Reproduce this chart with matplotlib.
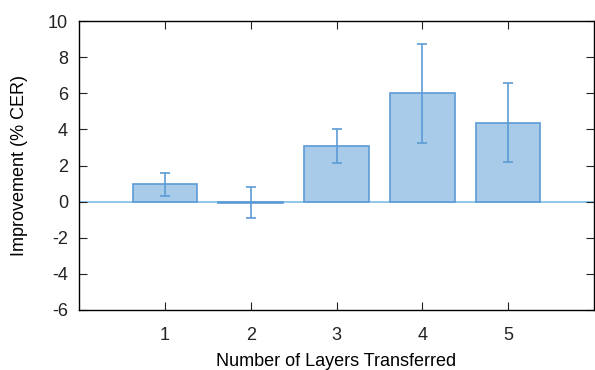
import numpy as np
import matplotlib
matplotlib.use("Agg")
import matplotlib.pyplot as plt

plt.rcParams['font.family'] = ['Liberation Sans', 'DejaVu Sans']
plt.rcParams['axes.unicode_minus'] = False

# data
layers = [1, 2, 3, 4, 5]
improvement = [0.96, -0.05, 3.08, 6.0, 4.37]
err = [0.63, 0.87, 0.94, 2.74, 2.19]
y_ticks = [-6, -4, -2, 0, 2, 4, 6, 8, 10]

fill_color = '#a7cbe8'
edge_color = '#5b9bd5'

fig = plt.figure(figsize=(5.95, 3.7), dpi=100)
ax = fig.add_axes([79 / 595, 60 / 370, 515 / 595, 289 / 370])

ax.axhline(0, color='#7fbde8', lw=1.2, zorder=1)
ax.bar(layers, improvement, width=0.75, color=fill_color, edgecolor=edge_color,
       linewidth=1.2, zorder=2)
ax.errorbar(layers, improvement, yerr=err, fmt='none', ecolor=edge_color,
            elinewidth=1.2, capsize=3.5, capthick=1.2, zorder=3)

ax.set_xlim(0, 6)
ax.set_ylim(-6, 10)
ax.set_xticks(layers)
ax.set_yticks(y_ticks)
ax.tick_params(direction='in', length=6, width=0.8, top=True, right=True,
               labelsize=13, colors='#222222', pad=8)
ax.tick_params(axis='x', pad=12)
for s in ax.spines.values():
    s.set_linewidth(1.0)

ax.set_xlabel('Number of Layers Transferred', fontsize=13, labelpad=7)
ax.set_ylabel('Improvement (% CER)', fontsize=13, labelpad=14)

fig.savefig('out.png', dpi=100)
